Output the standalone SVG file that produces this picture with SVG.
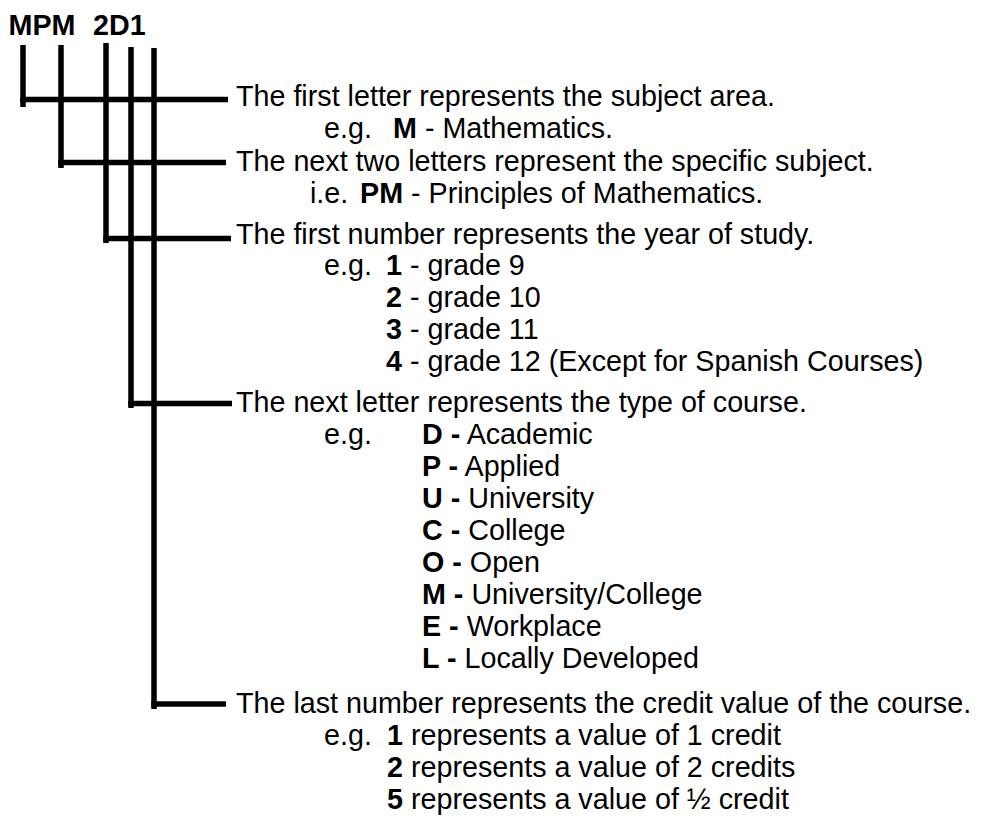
<svg xmlns="http://www.w3.org/2000/svg" width="997" height="819" viewBox="0 0 997 819">
<style>
text{font-family:"Liberation Sans",Arial,sans-serif;font-size:28.7px;fill:#000}
.b{font-weight:bold}
.ln{stroke:#000;stroke-width:5.5;fill:none;stroke-linecap:butt}
</style>
<rect width="997" height="819" fill="#fff"/>
<g id="code">
<text x="8.5" y="35" class="b">MPM</text>
<text x="93" y="35" class="b">2D1</text>
</g>
<g id="connectors">
<line class="ln" x1="23" y1="45" x2="23" y2="107"/>
<line class="ln" x1="20.25" y1="99.5" x2="228" y2="99.5"/>
<line class="ln" x1="61" y1="45" x2="61" y2="168"/>
<line class="ln" x1="58.25" y1="162.5" x2="226" y2="162.5"/>
<line class="ln" x1="106" y1="43" x2="106" y2="243"/>
<line class="ln" x1="103.25" y1="238.5" x2="231" y2="238.5"/>
<line class="ln" x1="131" y1="47" x2="131" y2="408"/>
<line class="ln" x1="128.25" y1="403.5" x2="232" y2="403.5"/>
<line class="ln" x1="154" y1="48" x2="154" y2="709"/>
<line class="ln" x1="151.25" y1="704" x2="226" y2="704"/>
</g>
<g id="subject-area">
<text x="236" y="105.5">The first letter represents the subject area.</text>
<text y="138.3"><tspan x="324">e.g.</tspan><tspan x="393" class="b">M</tspan><tspan> - Mathematics.</tspan></text>
</g>
<g id="specific-subject">
<text x="236" y="171">The next two letters represent the specific subject.</text>
<text y="202.6"><tspan x="310">i.e.</tspan><tspan x="360" class="b">PM</tspan><tspan> - Principles of Mathematics.</tspan></text>
</g>
<g id="year-of-study">
<text x="236" y="243.5">The first number represents the year of study.</text>
<text y="275.3"><tspan x="324">e.g.</tspan><tspan x="386" class="b">1</tspan><tspan> - grade 9</tspan></text>
<text y="307"><tspan x="386" class="b">2</tspan><tspan> - grade 10</tspan></text>
<text y="339"><tspan x="386" class="b">3</tspan><tspan> - grade 11</tspan></text>
<text y="370.7"><tspan x="386" class="b">4</tspan><tspan> - grade 12 (Except for Spanish Courses)</tspan></text>
</g>
<g id="course-type">
<text x="236" y="412">The next letter represents the type of course.</text>
<text y="443.8"><tspan x="324">e.g.</tspan><tspan x="422" class="b">D -</tspan><tspan> Academic</tspan></text>
<text y="475.6"><tspan x="422" class="b">P -</tspan><tspan> Applied</tspan></text>
<text y="507.6"><tspan x="422" class="b">U -</tspan><tspan> University</tspan></text>
<text y="539.5"><tspan x="422" class="b">C -</tspan><tspan> College</tspan></text>
<text y="571.5"><tspan x="422" class="b">O -</tspan><tspan> Open</tspan></text>
<text y="603.5"><tspan x="422" class="b">M -</tspan><tspan> University/College</tspan></text>
<text y="635.6"><tspan x="422" class="b">E -</tspan><tspan> Workplace</tspan></text>
<text y="667.6"><tspan x="422" class="b">L -</tspan><tspan> Locally Developed</tspan></text>
</g>
<g id="credit-value">
<text x="236" y="713">The last number represents the credit value of the course.</text>
<text y="745"><tspan x="324">e.g.</tspan><tspan x="387" class="b">1</tspan><tspan> represents a value of 1 credit</tspan></text>
<text y="777"><tspan x="387" class="b">2</tspan><tspan> represents a value of 2 credits</tspan></text>
<text y="809"><tspan x="387" class="b">5</tspan><tspan> represents a value of ½ credit</tspan></text>
</g>
</svg>
